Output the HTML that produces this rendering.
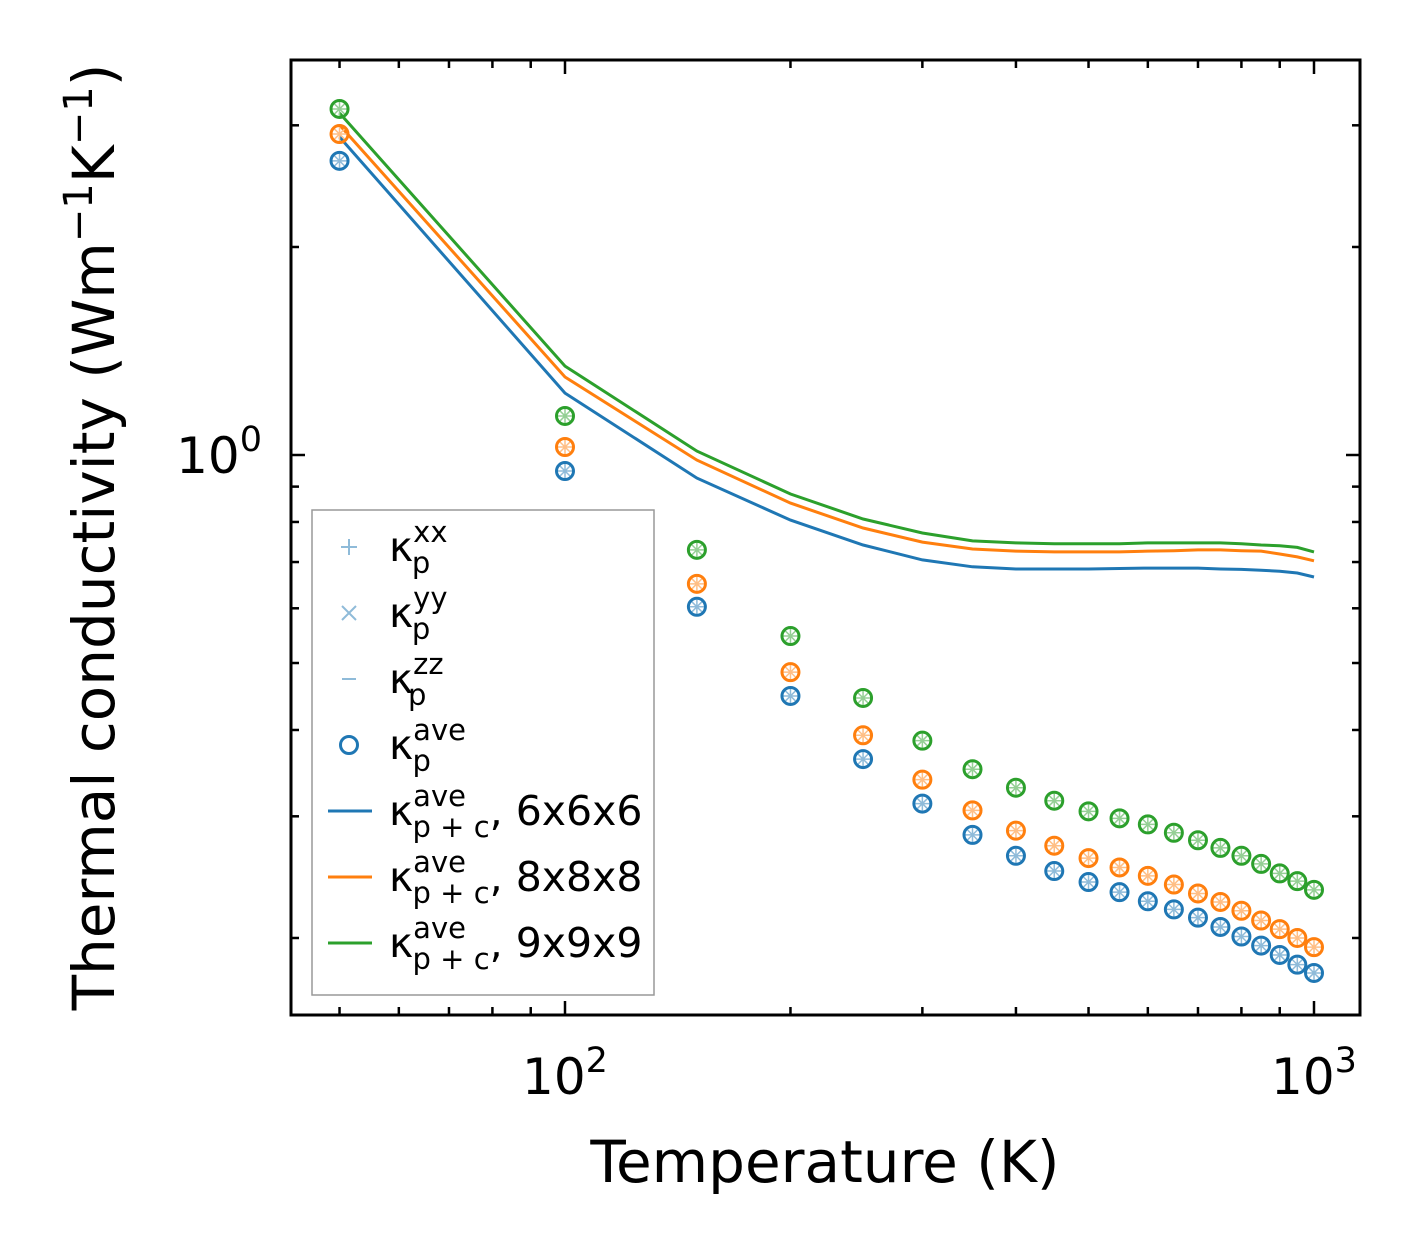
<!DOCTYPE html>
<html><head><meta charset="utf-8"><style>
html,body{margin:0;padding:0;background:#fff;}
svg{display:block;font-family:"DejaVu Sans","Liberation Sans",sans-serif;}
</style></head><body>
<svg id="chart" width="1421" height="1254" viewBox="0 0 1421 1254" xmlns="http://www.w3.org/2000/svg">
<rect x="0" y="0" width="1421" height="1254" fill="#fff"/>
<g id="plot"></g>
</svg>
<script>
const temps = [50,100,150,200,250,300,350,400,450,500,550,600,650,700,750,800,850,900,950,1000];
const kpBlue = [2.665,0.948,0.603,0.448,0.363,0.313,0.282,0.263,0.250,0.241,0.233,0.226,0.220,0.214,0.2075,0.201,0.195,0.189,0.183,0.178];
const kpOrange = [2.914,1.027,0.651,0.485,0.393,0.339,0.306,0.286,0.272,0.261,0.253,0.246,0.239,0.232,0.2255,0.219,0.212,0.206,0.200,0.194];
const kpGreen = [3.168,1.139,0.729,0.547,0.445,0.386,0.351,0.330,0.316,0.305,0.298,0.292,0.284,0.277,0.270,0.263,0.256,0.248,0.2417,0.2348];
const kpc666 = [2.885,1.229,0.926,0.805,0.741,0.705,0.689,0.684,0.684,0.684,0.685,0.686,0.686,0.686,0.684,0.683,0.681,0.679,0.675,0.666];
const kpc888 = [3.003,1.297,0.983,0.852,0.784,0.748,0.731,0.726,0.724,0.724,0.724,0.726,0.727,0.729,0.729,0.727,0.726,0.719,0.712,0.703];
const kpc999 = [3.126,1.345,1.013,0.878,0.808,0.771,0.751,0.746,0.744,0.744,0.744,0.746,0.746,0.746,0.746,0.744,0.741,0.739,0.735,0.724];

const NS="http://www.w3.org/2000/svg";
const g=document.getElementById('plot');
const L=291,R=1360,T=60,B=1015;
function xs(t){return 565+749*(Math.log10(t)-2);}
function ys(v){return 455-691*Math.log10(v);}
function mk(tag,attrs,parent){const e=document.createElementNS(NS,tag);for(const k in attrs)e.setAttribute(k,attrs[k]);(parent||g).appendChild(e);return e;}

const colors={b:'#1f77b4',o:'#ff7f0e',g:'#2ca02c'};
const light={b:'#8fbbd9',o:'#ffbf86',g:'#95cf95'};

[[kpc666,'b','line-6x6x6'],[kpc888,'o','line-8x8x8'],[kpc999,'g','line-9x9x9']].forEach(([arr,c,n])=>{
  const d=arr.map((v,i)=>(i?'L':'M')+xs(temps[i]).toFixed(1)+' '+ys(v).toFixed(1)).join(' ');
  const p=mk('path',{d:d,fill:'none',stroke:colors[c],'stroke-width':3});
  
  
});
function marker(x,y,c,parent){
  const gg=mk('g',{},parent);
  mk('path',{d:`M${x-7} ${y}H${x+7}M${x} ${y-7}V${y+7}M${x-5} ${y-5}L${x+5} ${y+5}M${x-5} ${y+5}L${x+5} ${y-5}`,stroke:light[c],'stroke-width':1.5,fill:'none'},gg);
  mk('circle',{cx:x,cy:y,r:8.5,fill:'none',stroke:colors[c],'stroke-width':3},gg);
  return gg;
}
[[kpBlue,'b'],[kpOrange,'o'],[kpGreen,'g']].forEach(([arr,c])=>{
  arr.forEach((v,i)=>{
    const m=marker(xs(temps[i]),ys(v),c);
    
    
  });
});
const fr=mk('rect',{x:L,y:T,width:R-L,height:B-T,fill:'none',stroke:'#000','stroke-width':3});


function tick(x1,y1,x2,y2){mk('line',{x1,y1,x2,y2,stroke:'#000','stroke-width':2.5});}
const xMinor=[50,60,70,80,90,200,300,400,500,600,700,800,900];
xMinor.forEach(t=>{const x=xs(t);tick(x,B,x,B-8);tick(x,T,x,T+8);});
[100,1000].forEach(t=>{const x=xs(t);tick(x,B,x,B-14);tick(x,T,x,T+14);});
const yMinor=[0.2,0.3,0.4,0.5,0.6,0.7,0.8,0.9,2,3];
yMinor.forEach(v=>{const y=ys(v);tick(L,y,L+8,y);tick(R,y,R-8,y);});
tick(L,ys(1),L+14,ys(1));tick(R,ys(1),R-14,ys(1));
function txt(x,y,s,size,anchor,name){const e=mk('text',{x,y,'font-size':size,'text-anchor':anchor||'middle',fill:'#000'});e.innerHTML=s;return e;}
txt(565,1094,'10<tspan dy="-22" font-size="35">2</tspan>',50,'middle','x-tick-label-100');
txt(1314,1094,'10<tspan dy="-22" font-size="35">3</tspan>',50,'middle','x-tick-label-1000');
txt(262,473,'10<tspan dy="-22" font-size="35">0</tspan>',50,'end','y-tick-label-1');
txt(825,1182,'Temperature (K)',58,'middle','x-axis-title');
const yt=txt(0,0,'Thermal conductivity (Wm<tspan dy="-22" font-size="40">−1</tspan><tspan dy="22">K</tspan><tspan dy="-22" font-size="40">−1</tspan><tspan dy="22">)</tspan>',58,'middle','y-axis-title');
yt.setAttribute('transform','translate(114,537) rotate(-90)');
const lg=mk('g',{});


mk('rect',{x:312,y:510,width:342,height:485,fill:'#fff',stroke:'#999','stroke-width':1.5},lg);
const rows=[['xx','p',''],['yy','p',''],['zz','p',''],['ave','p',''],['ave','p + c',', 6x6x6'],['ave','p + c',', 8x8x8'],['ave','p + c',', 9x9x9']];
rows.forEach((r,i)=>{
  const cy=547+i*66;
  const e=mk('g',{},lg);
  
  
  if(i===0) mk('path',{d:`M341 ${cy}H357M349 ${cy-8}V${cy+8}`,stroke:light.b,'stroke-width':2},e);
  if(i===1) mk('path',{d:`M342 ${cy-7}L356 ${cy+7}M342 ${cy+7}L356 ${cy-7}`,stroke:light.b,'stroke-width':2},e);
  if(i===2) mk('path',{d:`M342 ${cy}H356`,stroke:light.b,'stroke-width':2},e);
  if(i===3) mk('circle',{cx:349,cy:cy,r:8.5,fill:'none',stroke:colors.b,'stroke-width':3},e);
  if(i>=4) mk('path',{d:`M328 ${cy}H372`,stroke:[colors.b,colors.o,colors.g][i-4],'stroke-width':3},e);
  const t=mk('text',{x:389,y:cy+14,'font-size':41,fill:'#000'},e);
  t.innerHTML=`κ<tspan dy="-19" font-size="29">${r[0]}</tspan><tspan dx="${-(r[0].length*17.8)}" dy="31" font-size="29">${r[1]}</tspan><tspan dy="-12">${r[2]}</tspan>`;
});
</script>
</body></html>
